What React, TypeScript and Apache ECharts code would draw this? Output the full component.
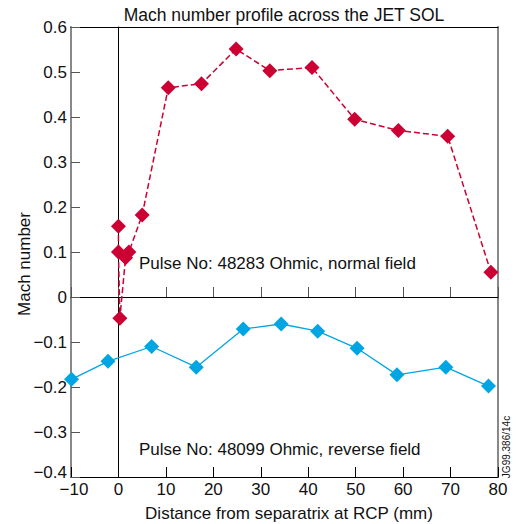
import React, { useEffect, useRef } from "react";
import * as echarts from "echarts";

// Normal field, pulse 48283: [distance (mm), Mach number]
const normalFieldPoints: [number, number][] = [
  [0, 0.157], [0, 0.1], [0.3, -0.047], [1.5, 0.087], [2.2, 0.1], [5.0, 0.182],
  [10.5, 0.465], [17.5, 0.474], [24.8, 0.551], [31.9, 0.503], [40.8, 0.51],
  [49.8, 0.395], [59.0, 0.37], [69.4, 0.357], [78.5, 0.055],
];
// Reverse field, pulse 48099
const reverseFieldPoints: [number, number][] = [
  [-9.9, -0.183], [-2.2, -0.143], [7.0, -0.11], [16.4, -0.156], [26.3, -0.071],
  [34.3, -0.06], [42.0, -0.076], [50.3, -0.114], [58.7, -0.173], [69.0, -0.156],
  [78.0, -0.198],
];
const xRange = { min: -10, max: 80, interval: 10 };
const yRange = { min: -0.4, max: 0.6, interval: 0.1 };

const titleText = "Mach number profile across the JET SOL";
const xName = "Distance from separatrix at RCP (mm)";
const yName = "Mach number";
const note1 = "Pulse No: 48283 Ohmic, normal field";
const note2 = "Pulse No: 48099 Ohmic, reverse field";
const refCode = "JG99.386/14c";

const RED = "#cc0033";
const BLUE = "#00a6e3";
const FONT = "Liberation Sans, Arial, sans-serif";

const fmt = (v: number) => {
  const r = Math.round(v * 10) / 10;
  if (r === 0) return "0";
  return r < 0 ? "\u2212" + String(Math.abs(r)) : String(r);
};
const fmtY = (v: number) => (Math.abs(v - yRange.min) < 1e-9 ? `{m|${fmt(v)}}` : fmt(v));
const fmtX = (v: number) => (v === xRange.min ? `{m|${fmt(v)}}` : fmt(v));

export default function App() {
  const ref = useRef<HTMLDivElement>(null);
  useEffect(() => {
    if (!ref.current) return;
    const chart = echarts.init(ref.current, undefined, { renderer: "svg" });
    const gridRect = { left: 71, right: 18, top: 27, bottom: 47 };
    const txt = (text: string, x: number, y: number, size: number, extra: any = {}) => ({
      type: "text",
      x,
      y,
      rotation: extra.rotation || 0,
      z: 100,
      style: {
        text,
        fill: "#111",
        font: `${size}px ${FONT}`,
        textAlign: extra.align || "left",
        align: extra.align || "left",
        textVerticalAlign: "middle",
        verticalAlign: "middle",
      },
    });
    const labelBase = { fontSize: 17, fontFamily: FONT, color: "#111" };
    chart.setOption({
      animation: false,
      backgroundColor: "#fff",
      grid: [
        { ...gridRect, show: false },
        { ...gridRect, show: false },
      ],
      xAxis: [
        {
          type: "value", gridIndex: 0, position: "bottom", ...xRange,
          axisLine: { onZero: false, lineStyle: { color: "#000", width: 1 } },
          axisTick: { inside: true, length: 10, lineStyle: { color: "#000" } },
          axisLabel: {
            ...labelBase, margin: 4, formatter: fmtX as any,
            rich: { m: { ...labelBase, padding: [0, 0, 0, 6] } },
          },
          splitLine: { show: false },
        },
        {
          type: "value", gridIndex: 0, position: "top", ...xRange,
          axisLine: { onZero: true, onZeroAxisIndex: 0, lineStyle: { color: "#000", width: 1 } },
          axisTick: { inside: false, length: 10, lineStyle: { color: "#555" } },
          axisLabel: { show: false },
          splitLine: { show: false },
        },
        {
          type: "value", gridIndex: 1, position: "top", ...xRange,
          axisLine: { onZero: false, lineStyle: { color: "#000", width: 1 } },
          axisTick: { show: false },
          axisLabel: { show: false },
          splitLine: { show: false },
        },
      ],
      yAxis: [
        {
          type: "value", gridIndex: 0, position: "left", ...yRange,
          axisLine: { onZero: false, lineStyle: { color: "#888", width: 2 } },
          axisTick: { inside: true, length: 9, lineStyle: { color: "#555" } },
          axisLabel: {
            ...labelBase, margin: 4, formatter: fmtY as any,
            rich: { m: { ...labelBase, padding: [0, 0, 9, 0] } },
          },
          splitLine: { show: false },
        },
        {
          type: "value", gridIndex: 0, position: "right", ...yRange,
          axisLine: { onZero: true, onZeroAxisIndex: 0, lineStyle: { color: "#000", width: 1 } },
          axisTick: { show: false },
          axisLabel: { show: false },
          splitLine: { show: false },
        },
        {
          type: "value", gridIndex: 1, position: "right", ...yRange,
          axisLine: { onZero: false, lineStyle: { color: "#888", width: 2 } },
          axisTick: { show: false },
          axisLabel: { show: false },
          splitLine: { show: false },
        },
      ],
      series: [
        {
          type: "line", xAxisIndex: 0, yAxisIndex: 0,
          data: normalFieldPoints,
          symbol: "diamond", symbolSize: 15,
          itemStyle: { color: RED },
          lineStyle: { color: RED, width: 1.5, type: [6, 3] },
          z: 5,
        },
        {
          type: "line", xAxisIndex: 0, yAxisIndex: 0,
          data: reverseFieldPoints,
          symbol: "diamond", symbolSize: 15,
          itemStyle: { color: BLUE },
          lineStyle: { color: BLUE, width: 1.3 },
          z: 5,
        },
      ],
      graphic: [
        txt(titleText, 284, 15, 17.5, { align: "center" }),
        txt(note1, 139, 263, 17),
        txt(note2, 139, 449, 17),
        txt(xName, 289, 513, 17, { align: "center" }),
        txt(yName, 24, 264, 17, { align: "center", rotation: Math.PI / 2 }),
        txt(refCode, 506, 447, 10, { align: "center", rotation: Math.PI / 2 }),
      ],
    });
    return () => chart.dispose();
  }, []);
  return <div ref={ref} style={{ width: 516, height: 524, position: "absolute", left: 0, top: 0 }} />;
}
